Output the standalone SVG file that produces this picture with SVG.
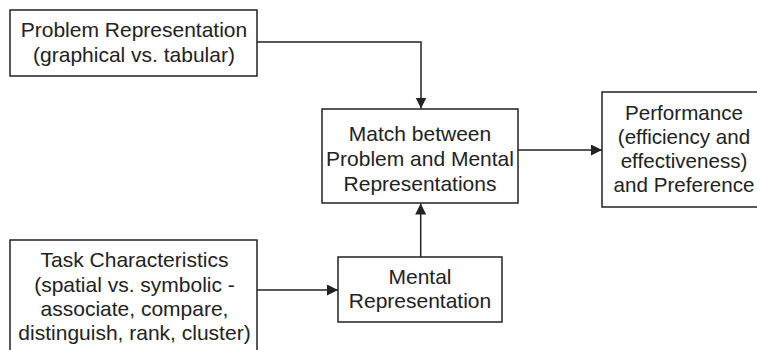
<svg xmlns="http://www.w3.org/2000/svg" width="757" height="350" viewBox="0 0 757 350">
<defs>
<style>
.box{fill:#fff;stroke:#222;stroke-width:1.5}
.lbl{font-family:"Liberation Sans",Arial,sans-serif;font-size:21px;fill:#222;text-anchor:middle}
.sm{font-size:20.6px}
.conn{fill:none;stroke:#222;stroke-width:1.5}
</style>
<marker id="arr" markerUnits="userSpaceOnUse" markerWidth="12" markerHeight="12" refX="11" refY="5.5" orient="auto">
<path d="M0,0 L11,5.5 L0,11 z" fill="#222"/>
</marker>
</defs>
<rect width="757" height="350" fill="#fff"/>
<g id="connectors">
<path class="conn" d="M257,42 H421 V108.5" marker-end="url(#arr)"/>
<path class="conn" d="M420.7,257 V203.5" marker-end="url(#arr)"/>
<path class="conn" d="M518,150 H602" marker-end="url(#arr)"/>
<path class="conn" d="M257,290 H338" marker-end="url(#arr)"/>
</g>
<g id="problem">
<rect class="box" x="10" y="10" width="247" height="66"/>
<text class="lbl" x="134" y="37">Problem Representation</text>
<text class="lbl" x="134" y="62">(graphical vs. tabular)</text>
</g>
<g id="match">
<rect class="box" x="322" y="109" width="196" height="94"/>
<text class="lbl" x="420" y="141">Match between</text>
<text class="lbl" x="420" y="166">Problem and Mental</text>
<text class="lbl" x="420" y="191">Representations</text>
</g>
<g id="performance">
<rect class="box" x="602" y="92" width="170" height="115"/>
<text class="lbl sm" x="684" y="120">Performance</text>
<text class="lbl sm" x="684" y="144">(efficiency and</text>
<text class="lbl sm" x="684" y="168">effectiveness)</text>
<text class="lbl sm" x="684" y="192">and Preference</text>
</g>
<g id="task">
<rect class="box" x="10" y="240" width="247" height="120"/>
<text class="lbl" x="134.5" y="267">Task Characteristics</text>
<text class="lbl" x="134.5" y="291.5">(spatial vs. symbolic -</text>
<text class="lbl" x="134.5" y="315.5">associate, compare,</text>
<text class="lbl" x="134.5" y="340">distinguish, rank, cluster)</text>
</g>
<g id="mental">
<rect class="box" x="338" y="257" width="164" height="65"/>
<text class="lbl" x="420" y="284">Mental</text>
<text class="lbl" x="420" y="308">Representation</text>
</g>
</svg>
